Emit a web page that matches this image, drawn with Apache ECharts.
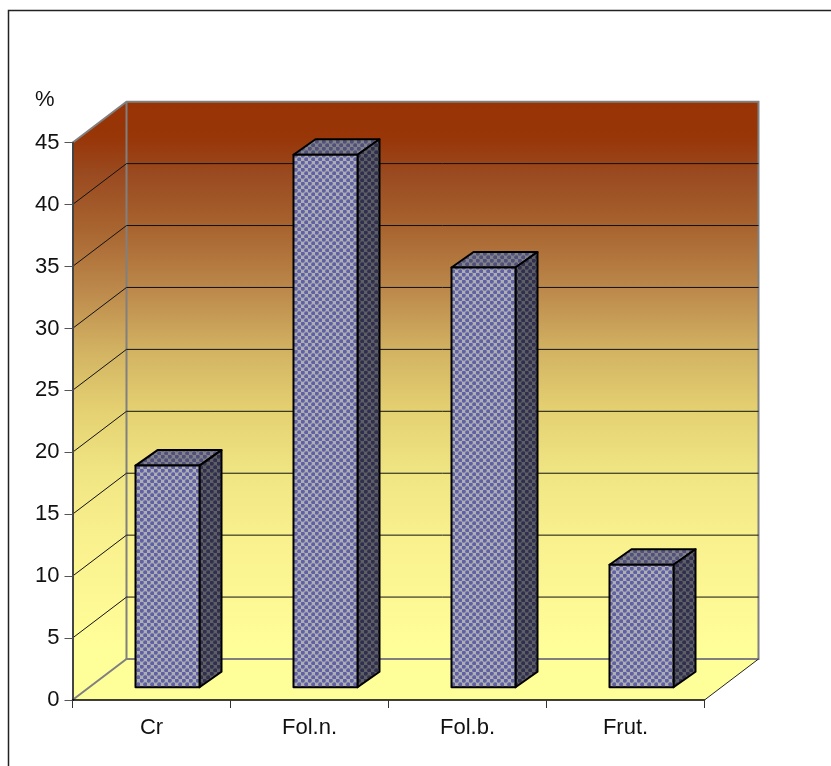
<!DOCTYPE html>
<html>
<head>
<meta charset="utf-8">
<style>html,body{margin:0;padding:0;background:#fff}#chart{width:831px;height:766px}</style>
<script src="https://cdn.jsdelivr.net/npm/echarts@6/dist/echarts.min.js"></script>
</head>
<body>
<div id="chart"></div>
<script>
const categories = ['Cr', 'Fol.n.', 'Fol.b.', 'Frut.'];
const percentValues = [17.9, 43, 33.9, 9.9];
const yTicks = [0, 5, 10, 15, 20, 25, 30, 35, 40, 45];

const WALL_DX = 54, WALL_DY = -41;       // depth of the 3D box
const BAR_SHIFT_X = 16, BAR_SHIFT_Y = -12.7; // bars stand in the middle of the floor
const BAR_DX = 22, BAR_DY = -15.5;
const BAR_W = 64;

function tile(a, b) {
  const c = document.createElement('canvas');
  c.width = c.height = 7;
  const g = c.getContext('2d');
  g.fillStyle = a; g.fillRect(0, 0, 7, 7);
  g.fillStyle = b;
  [[1.75, 1.75], [5.25, 5.25]].forEach(function (p) {
    g.beginPath(); g.arc(p[0], p[1], 2.1, 0, Math.PI * 2); g.fill();
  });
  return { image: c, repeat: 'repeat' };
}
const frontFill = tile('#adadb4', '#6060a4');
const sideFill = tile('#5e5e66', '#30304e');
const topFill = tile('#82828c', '#50507a');

const wallGradient = {
  type: 'linear', x: 0, y: 102, x2: 0, y2: 700, global: true,
  colorStops: [
    { offset: 0, color: '#983305' },
    { offset: 0.06, color: '#983608' },
    { offset: 0.12, color: '#9a4a20' },
    { offset: 0.21, color: '#a8642f' },
    { offset: 0.31, color: '#bb874a' },
    { offset: 0.42, color: '#d3b463' },
    { offset: 0.52, color: '#e5d272' },
    { offset: 0.62, color: '#f0e583' },
    { offset: 0.72, color: '#f8f08c' },
    { offset: 0.83, color: '#fdf894' },
    { offset: 0.92, color: '#ffff99' },
    { offset: 1, color: '#ffff99' }
  ]
};

function bandEdges(api) {
  const band = api.size([1, 0])[0];
  const left = api.coord([0, 0])[0] - band / 2;
  return { left: left, right: left + band * categories.length };
}

const chart = echarts.init(document.getElementById('chart'), null, { renderer: 'canvas' });
chart.setOption({
  animation: false,
  graphic: [{
    type: 'polyline', silent: true, z: -10,
    shape: { points: [[8.5, 770], [8.5, 10.5], [835, 10.5]] },
    style: { stroke: '#222', lineWidth: 1.5, fill: 'none' }
  }],
  grid: { left: 72.5, top: 142.7, width: 632, height: 557.3, containLabel: false },
  xAxis: {
    type: 'category',
    data: categories,
    z: 5,
    axisLine: { show: true, lineStyle: { color: '#000', width: 1.5 } },
    axisTick: { show: true, length: 8, alignWithLabel: false, lineStyle: { color: '#333', width: 1 } },
    axisLabel: { color: '#111', fontFamily: 'Liberation Sans', fontSize: 22, margin: 17 },
    splitLine: { show: false }
  },
  yAxis: {
    type: 'value', min: 0, max: 45, interval: 5,
    name: '%',
    nameLocation: 'end',
    nameGap: 32,
    nameTextStyle: { color: '#111', fontFamily: 'Liberation Sans', fontSize: 22, align: 'right', padding: [0, 18, 0, 0] },
    z: 5,
    axisLine: { show: true, lineStyle: { color: '#444', width: 2 } },
    axisTick: { show: true, length: 8, lineStyle: { color: '#555', width: 1 } },
    axisLabel: { color: '#111', fontFamily: 'Liberation Sans', fontSize: 22, margin: 13, padding: [4, 0, 0, 0] },
    splitLine: { show: false }
  },
  series: [
    {
      // floor, side wall and back wall
      type: 'custom', coordinateSystem: 'cartesian2d', clip: false, z: 1, silent: true,
      data: [[0, 45]],
      renderItem: function (params, api) {
        const e = bandEdges(api);
        const y0 = api.coord([0, 0])[1], yTop = api.coord([0, 45])[1];
        const grey = { stroke: '#808080', lineWidth: 2, fill: 'none' };
        return { type: 'group', children: [
          { type: 'polygon', shape: { points: [[e.left, y0], [e.left + WALL_DX, y0 + WALL_DY], [e.left + WALL_DX, yTop + WALL_DY], [e.left, yTop]] }, style: { fill: wallGradient } },
          { type: 'rect', shape: { x: e.left + WALL_DX, y: yTop + WALL_DY, width: e.right - e.left, height: y0 - yTop }, style: { fill: wallGradient } },
          { type: 'polygon', shape: { points: [[e.left, y0], [e.right, y0], [e.right + WALL_DX, y0 + WALL_DY], [e.left + WALL_DX, y0 + WALL_DY]] }, style: { fill: '#ffff99' } },
          { type: 'polyline', shape: { points: [[e.left, yTop], [e.left + WALL_DX, yTop + WALL_DY], [e.right + WALL_DX, yTop + WALL_DY], [e.right + WALL_DX, y0 + WALL_DY], [e.left + WALL_DX, y0 + WALL_DY], [e.left, y0]] }, style: grey },
          { type: 'line', shape: { x1: e.left + WALL_DX, y1: yTop + WALL_DY, x2: e.left + WALL_DX, y2: y0 + WALL_DY }, style: grey },
          { type: 'line', shape: { x1: e.right, y1: y0, x2: e.right + WALL_DX, y2: y0 + WALL_DY }, style: { stroke: '#222', lineWidth: 1 } }
        ] };
      }
    },
    {
      // gridlines across both walls
      type: 'custom', coordinateSystem: 'cartesian2d', clip: false, z: 2, silent: true,
      data: yTicks.slice(1, -1).map(function (t) { return [0, t]; }),
      renderItem: function (params, api) {
        const e = bandEdges(api);
        const y = api.coord([0, api.value(1)])[1];
        const style = { stroke: '#111', lineWidth: 1 };
        return { type: 'group', children: [
          { type: 'line', shape: { x1: e.left, y1: y, x2: e.left + WALL_DX, y2: y + WALL_DY }, style: style },
          { type: 'line', shape: { x1: e.left + WALL_DX, y1: y + WALL_DY, x2: e.right + WALL_DX, y2: y + WALL_DY }, style: style }
        ] };
      }
    },
    {
      // 3D bars
      type: 'custom', coordinateSystem: 'cartesian2d', clip: false, z: 3,
      data: categories.map(function (c, i) { return [i, percentValues[i]]; }),
      renderItem: function (params, api) {
        const c0 = api.coord([api.value(0), 0]);
        const c1 = api.coord([api.value(0), api.value(1)]);
        const xL = c0[0] + BAR_SHIFT_X - BAR_W / 2, xR = xL + BAR_W;
        const yB = c0[1] + BAR_SHIFT_Y, yT = c1[1] + BAR_SHIFT_Y;
        const edge = { stroke: '#000', lineWidth: 2, lineJoin: 'round' };
        return { type: 'group', children: [
          { type: 'polygon', shape: { points: [[xL, yT], [xR, yT], [xR + BAR_DX, yT + BAR_DY], [xL + BAR_DX, yT + BAR_DY]] }, style: Object.assign({ fill: topFill }, edge) },
          { type: 'polygon', shape: { points: [[xR, yT], [xR + BAR_DX, yT + BAR_DY], [xR + BAR_DX, yB + BAR_DY], [xR, yB]] }, style: Object.assign({ fill: sideFill }, edge) },
          { type: 'rect', shape: { x: xL, y: yT, width: BAR_W, height: yB - yT }, style: Object.assign({ fill: frontFill }, edge) }
        ] };
      }
    }
  ]
});
</script>
</body>
</html>
